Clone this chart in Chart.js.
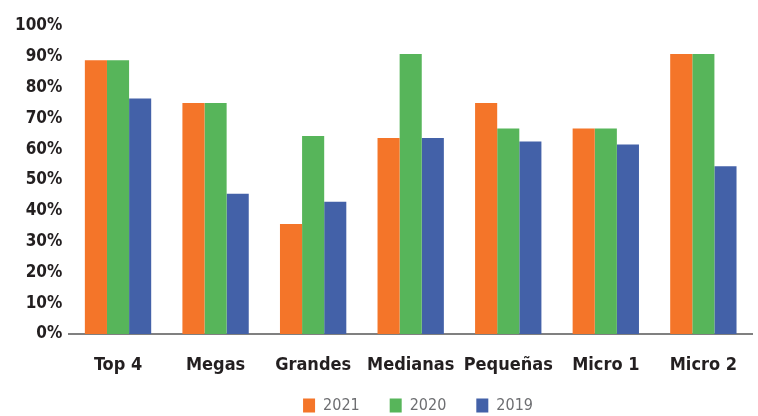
<!DOCTYPE html>
<html>
<head>
<meta charset="utf-8">
<script src="https://cdn.jsdelivr.net/npm/chart.js@4"></script>
<style>
  html, body { margin: 0; padding: 0; background: #fff; }
  #wrap { width: 758px; height: 416px; }
</style>
</head>
<body>
<div id="wrap"><canvas id="chart" width="758" height="416"></canvas></div>
<script>
const categories = ['Top 4', 'Megas', 'Grandes', 'Medianas', 'Pequeñas', 'Micro 1', 'Micro 2'];
const years = ['2021', '2020', '2019'];
const values2021 = [0.889, 0.75, 0.357, 0.636, 0.75, 0.667, 0.909];
const values2020 = [0.889, 0.75, 0.643, 0.909, 0.667, 0.667, 0.909];
const values2019 = [0.765, 0.455, 0.429, 0.636, 0.625, 0.615, 0.545];
const colors = ['#f47529', '#57b55a', '#4361a8'];

const condFont = "'DejaVu Sans Condensed', 'DejaVu Sans', sans-serif";

// the legend takes little room in the layout, then gets moved down and a bit right
const legendPlace = {
  id: 'legendPlace',
  beforeInit(chart) {
    const fit = chart.legend.fit;
    chart.legend.fit = function () {
      fit.bind(chart.legend)();
      this.height = 18.4;
    };
  },
  afterLayout(chart) {
    const lg = chart.legend;
    lg.top = 367.5;
    lg.bottom = 416;
    lg.left += 35;
    lg.right += 35;
  }
};

const ctx = document.getElementById('chart').getContext('2d');
new Chart(ctx, {
  type: 'bar',
  data: {
    labels: categories,
    datasets: [values2021, values2020, values2019].map((vals, i) => ({
      label: years[i],
      data: vals,
      backgroundColor: colors[i],
      borderWidth: 0,
      categoryPercentage: 0.68,
      barPercentage: 1
    }))
  },
  options: {
    responsive: false,
    animation: false,
    layout: { padding: { top: 26, right: 0, left: 8, bottom: 0 } },
    plugins: {
      tooltip: { enabled: false },
      legend: {
        position: 'bottom',
        labels: {
          boxWidth: 12,
          boxHeight: 14,
          padding: 30,
          color: '#6d6e71',
          font: { family: condFont, size: 16 }
        }
      }
    },
    scales: {
      x: {
        grid: { display: false, drawTicks: false },
        border: { display: true, color: '#808080', width: 2 },
        ticks: {
          color: '#231f20',
          padding: 21,
          maxRotation: 0,
          autoSkip: false,
          font: { family: condFont, size: 18, weight: 'bold' }
        }
      },
      y: {
        min: 0,
        max: 1,
        grid: { display: false, drawTicks: false },
        border: { display: false },
        ticks: {
          stepSize: 0.1,
          padding: 7,
          color: '#231f20',
          font: { family: condFont, size: 17, weight: 'bold' },
          callback: v => Math.round(v * 100) + '%'
        }
      }
    }
  },
  plugins: [legendPlace]
});
</script>
</body>
</html>
